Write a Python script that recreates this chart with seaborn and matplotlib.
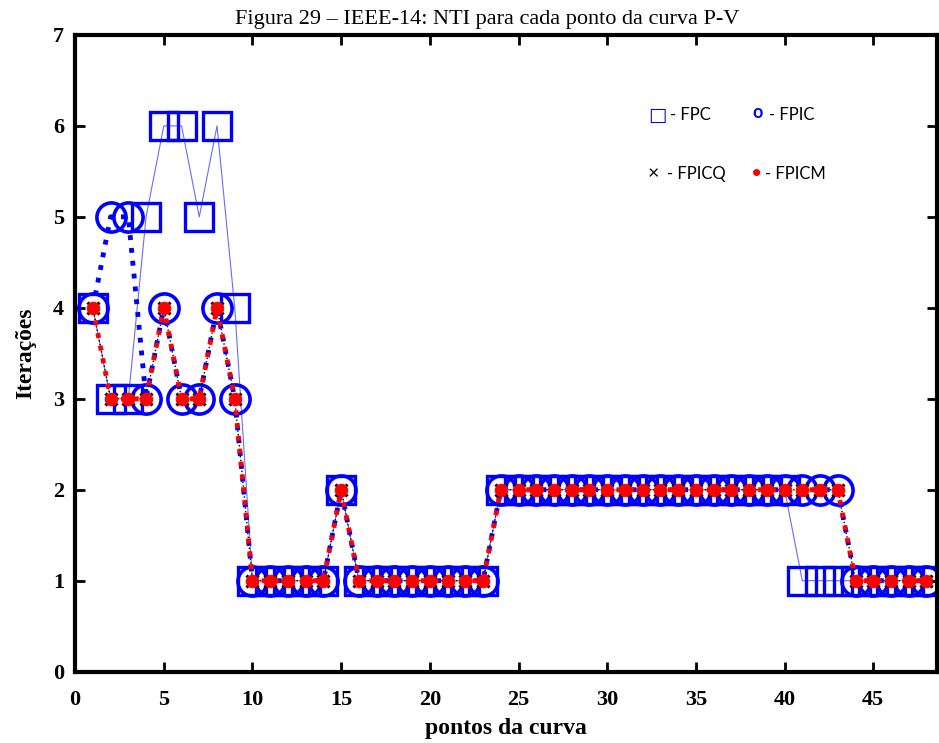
import numpy as np
import seaborn as sns
import matplotlib.pyplot as plt

# ---------- data ----------
pontos = list(range(1, 49))

fpc = [4, 3, 3, 5, 6, 6, 5, 6, 4, 1,
       1, 1, 1, 1, 2, 1, 1, 1, 1, 1,
       1, 1, 1, 2, 2, 2, 2, 2, 2, 2,
       2, 2, 2, 2, 2, 2, 2, 2, 2, 2,
       1, 1, 1, 1, 1, 1, 1, 1]

fpic = [4, 5, 5, 3, 4, 3, 3, 4, 3, 1,
        1, 1, 1, 1, 2, 1, 1, 1, 1, 1,
        1, 1, 1, 2, 2, 2, 2, 2, 2, 2,
        2, 2, 2, 2, 2, 2, 2, 2, 2, 2,
        2, 2, 2, 1, 1, 1, 1, 1]

fpicq = [4, 3, 3, 3, 4, 3, 3, 4, 3, 1,
         1, 1, 1, 1, 2, 1, 1, 1, 1, 1,
         1, 1, 1, 2, 2, 2, 2, 2, 2, 2,
         2, 2, 2, 2, 2, 2, 2, 2, 2, 2,
         2, 2, 2, 1, 1, 1, 1, 1]

fpicm = list(fpicq)

x_ticks = [0, 5, 10, 15, 20, 25, 30, 35, 40, 45]
y_ticks = [0, 1, 2, 3, 4, 5, 6, 7]

# ---------- plot ----------
sns.set_style("ticks")
plt.rcParams['font.family'] = ['Liberation Serif', 'DejaVu Serif']
plt.rcParams['text.color'] = 'black'
plt.rcParams['axes.labelcolor'] = 'black'
plt.rcParams['xtick.color'] = 'black'
plt.rcParams['ytick.color'] = 'black'
plt.rcParams['axes.edgecolor'] = 'black'

fig = plt.figure(figsize=(9.39, 7.43), dpi=100)
ax = fig.add_axes([0.080, 0.096, 0.918, 0.857])

sns.lineplot(x=pontos, y=fpc, ax=ax, color='#6a6aff', linewidth=0.8,
             marker='s', markersize=20, markerfacecolor='none',
             markeredgecolor='blue', markeredgewidth=2.4)
sns.lineplot(x=pontos, y=fpic, ax=ax, color='blue', linewidth=3.5, linestyle=':',
             marker='o', markersize=21, markerfacecolor='none',
             markeredgecolor='blue', markeredgewidth=2.6)
sns.lineplot(x=pontos, y=fpicq, ax=ax, color='black', linewidth=1, linestyle=':',
             marker='x', markersize=8, markeredgecolor='black', markeredgewidth=2.2)
sns.lineplot(x=pontos, y=fpicm, ax=ax, color='red', linewidth=3.5, linestyle=':',
             marker='o', markersize=9, markerfacecolor='red', markeredgecolor='red')

ax.set_xlim(0, 48.6)
ax.set_ylim(0, 7)
ax.set_xticks(x_ticks)
ax.set_yticks(y_ticks)
ax.tick_params(direction='in', length=7, width=2, top=True, right=True,
               labelsize=16)
ax.tick_params(axis='x', pad=13)
ax.tick_params(axis='y', pad=8)
for lbl in ax.get_xticklabels() + ax.get_yticklabels():
    lbl.set_fontweight('bold')
for sp in ax.spines.values():
    sp.set_linewidth(3)

ax.set_xlabel('pontos da curva', fontsize=17, fontweight='bold', labelpad=6)
ax.set_ylabel('Iterações', fontsize=17, fontweight='bold', labelpad=12)
fig.text(0.519, 0.974, 'Figura 29 – IEEE-14: NTI para cada ponto da curva P-V',
         ha='center', va='center', fontsize=16)

# legend drawn as text, like the original
def px(x, y):
    return x / 939, 1 - y / 743

leg_font = ['Lato', 'DejaVu Sans']
fig.text(*px(648, 115), '□', color='blue', fontsize=14, va='center', family=['DejaVu Sans'])
fig.text(*px(670, 115), '- FPC', color='black', fontsize=12, va='center', family=leg_font)
fig.text(*px(752, 113), 'o', color='blue', fontsize=13, fontweight='bold', va='center', family=leg_font)
fig.text(*px(769, 115), '- FPIC', color='black', fontsize=12, va='center', family=leg_font)
fig.text(*px(648, 174), '×', color='black', fontsize=14, va='center', family=leg_font)
fig.text(*px(667, 174), '- FPICQ', color='black', fontsize=12, va='center', family=leg_font)
fig.text(*px(751, 174), '•', color='red', fontsize=14, va='center', family=leg_font)
fig.text(*px(765, 174), '- FPICM', color='black', fontsize=12, va='center', family=leg_font)

fig.savefig('out.png', dpi=100)
